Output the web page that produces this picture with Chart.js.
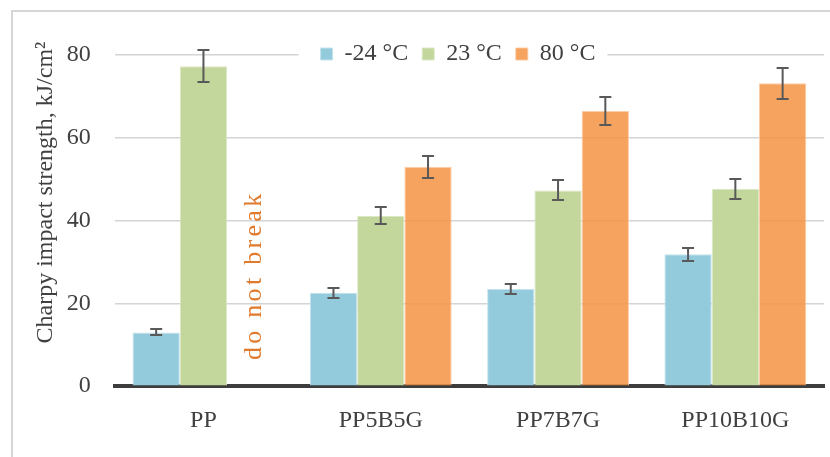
<!DOCTYPE html>
<html>
<head>
<meta charset="utf-8">
<script src="https://cdn.jsdelivr.net/npm/chart.js@4/dist/chart.umd.min.js"></script>
<style>
  html, body { margin: 0; padding: 0; background: #ffffff; }
  #wrap { width: 830px; height: 457px; position: relative; }
</style>
</head>
<body>
<div id="wrap"><canvas id="c" width="830" height="457"></canvas></div>
<script>
// ---- data ----
const categories = ['PP', 'PP5B5G', 'PP7B7G', 'PP10B10G'];
const seriesLabels = ['-24 \u00B0C', '23 \u00B0C', '80 \u00B0C'];
const valuesMinus24 = [13.0, 22.6, 23.5, 31.9];
const values23 = [77.3, 41.2, 47.3, 47.7];
const values80 = [null, 53.0, 66.5, 73.2];
const errMinus24 = [0.75, 1.2, 1.3, 1.6];
const err23 = [3.8, 2.1, 2.4, 2.45];
const err80 = [null, 2.7, 3.4, 3.75];
const yTicks = [0, 20, 40, 60, 80];
const yTitle = 'Charpy impact strength, kJ/cm\u00B2';
const note = 'do not break';
const noteValue = 26.3;

const serif = '"Liberation Serif", "Times New Roman", serif';
const textColor = '#404040';

const frame = {
  id: 'frame',
  beforeDraw(chart) {
    const ctx = chart.ctx;
    ctx.save();
    ctx.strokeStyle = '#d6d6d6';
    ctx.lineWidth = 2;
    ctx.beginPath();
    ctx.moveTo(12, 457);
    ctx.lineTo(12, 11);
    ctx.lineTo(830, 11);
    ctx.stroke();
    ctx.restore();
  }
};

// place the y-axis title like the reference (left edge and vertical centre)
const titlePlace = {
  id: 'titlePlace',
  afterLayout(chart) {
    const ys = chart.scales.y;
    ys.left = 31;
    ys.top -= 28;
    ys.bottom -= 28;
  }
};

const legendPlace = {
  id: 'legendPlace',
  afterUpdate(chart) {
    const lg = chart.legend;
    if (!lg || !lg.legendHitBoxes || !lg.legendHitBoxes.length) return;
    const hb = lg.legendHitBoxes;
    const cy = hb[0].top + hb[0].height / 2;
    const first = hb[0], last = hb[hb.length - 1];
    const cx = (first.left + last.left + last.width) / 2;
    const dy = 54 - cy;
    const dx = 458 - cx;
    lg.top += dy; lg.bottom += dy;
    lg.left += dx; lg.right += dx;
    hb.forEach(h => { h.top += dy; h.left += dx; });
  },
  beforeDatasetsDraw(chart) {
    const lg = chart.legend;
    if (!lg || !lg.legendHitBoxes || !lg.legendHitBoxes.length) return;
    const hb = lg.legendHitBoxes;
    const first = hb[0], last = hb[hb.length - 1];
    const ctx = chart.ctx;
    ctx.save();
    ctx.fillStyle = '#ffffff';
    ctx.fillRect(first.left - 22, first.top - 4, (last.left + last.width + 12) - (first.left - 22), first.height + 8);
    ctx.restore();
    lg.draw();
  }
};

const errorBars = {
  id: 'errorBars',
  afterDatasetsDraw(chart) {
    const ctx = chart.ctx;
    const y = chart.scales.y;
    const errs = [errMinus24, err23, err80];
    ctx.save();
    ctx.strokeStyle = '#595959';
    ctx.lineWidth = 2;
    chart.data.datasets.forEach((ds, di) => {
      const meta = chart.getDatasetMeta(di);
      ds.data.forEach((v, i) => {
        const e = errs[di][i];
        if (v == null || e == null) return;
        const x = meta.data[i].x;
        const yt = Math.round(y.getPixelForValue(v + e));
        const yb = Math.round(y.getPixelForValue(v - e));
        ctx.beginPath();
        ctx.moveTo(x, yt); ctx.lineTo(x, yb);
        ctx.moveTo(x - 6, yt); ctx.lineTo(x + 6, yt);
        ctx.moveTo(x - 6, yb); ctx.lineTo(x + 6, yb);
        ctx.stroke();
      });
    });
    // "do not break" note in the empty 80 °C slot of PP
    const meta80 = chart.getDatasetMeta(2);
    const el = meta80.data[0];
    let x = el && isFinite(el.x) ? el.x : null;
    if (x == null) {
      const m = chart.getDatasetMeta(1).data[0];
      x = m.x + m.width;
    }
    const yc = y.getPixelForValue(noteValue);
    ctx.translate(x + 3, yc);
    ctx.rotate(-Math.PI / 2);
    ctx.fillStyle = '#E07A2C';
    ctx.font = '26px "Liberation Serif", "Times New Roman", serif';
    if ('letterSpacing' in ctx) ctx.letterSpacing = '3.3px';
    ctx.textAlign = 'center';
    ctx.textBaseline = 'middle';
    ctx.fillText(note, 2, 0);
    ctx.restore();
  }
};

new Chart(document.getElementById('c'), {
  type: 'bar',
  data: {
    labels: categories,
    datasets: [
      { label: seriesLabels[0], data: valuesMinus24, backgroundColor: '#93CADC', borderColor: '#C4E3EC', borderWidth: 1, clip: false },
      { label: seriesLabels[1], data: values23, backgroundColor: '#C3D69B', borderColor: '#DDE8C6', borderWidth: 1, clip: false },
      { label: seriesLabels[2], data: values80, backgroundColor: 'rgba(246,148,70,0.86)', borderColor: 'rgba(252,200,160,0.9)', borderWidth: 1, clip: false }
    ]
  },
  options: {
    responsive: false,
    animation: false,
    devicePixelRatio: 1,
    layout: { padding: { left: 6, right: 6, top: 15, bottom: 2 } },
    datasets: { bar: { categoryPercentage: 0.8, barPercentage: 1.0 } },
    plugins: {
      legend: {
        position: 'top',
        align: 'center',
        maxHeight: 40,
        labels: {
          boxWidth: 12, boxHeight: 12, padding: 14,
          color: textColor,
          font: { family: serif, size: 24 }
        }
      },
      tooltip: { enabled: false }
    },
    scales: {
      x: {
        grid: { display: false, drawTicks: false },
        border: { display: true, color: '#3d3d3d', width: 4 },
        ticks: { color: textColor, font: { family: serif, size: 24 }, padding: 20, maxRotation: 0 }
      },
      y: {
        min: 0, max: 80,
        afterBuildTicks(scale) { scale.ticks = yTicks.map(v => ({ value: v })); },
        grid: { color: '#d4d4d4', lineWidth: 1.5, drawTicks: false },
        border: { display: false },
        ticks: { color: textColor, font: { family: serif, size: 24 }, padding: 24 },
        title: {
          display: true, text: yTitle, color: textColor,
          font: { family: serif, size: 24, lineHeight: 1.2 },
          padding: { top: 0, bottom: 8 }
        }
      }
    }
  },
  plugins: [frame, titlePlace, legendPlace, errorBars]
});
</script>
</body>
</html>
